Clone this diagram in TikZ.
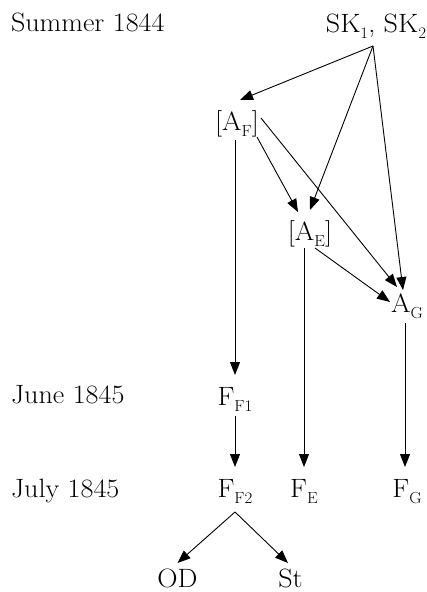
\documentclass[tikz,border=0pt]{standalone}
\usepackage{graphicx}
\usetikzlibrary{arrows.meta}
\newcommand\lb[1]{\scalebox{1.06}[1]{\fontsize{26.5}{30}\selectfont #1}}
\newcommand\sbs[1]{\raisebox{-6.5pt}{\fontsize{16}{16}\selectfont #1}}
\tikzset{
  lab/.style={inner sep=0pt, outer sep=0pt, anchor=base},
  side/.style={inner sep=0pt, outer sep=0pt, anchor=base west},
  arr/.style={line width=0.9pt, -{Triangle[length=13pt,width=10pt]}}
}
\begin{document}
\begin{tikzpicture}[x=1pt,y=-1pt]
\useasboundingbox (0,0) rectangle (426,592);
% time labels
\node[side] (summer) at (11,31) {\lb{Summer 1844}};
\node[side] (june) at (11,403) {\lb{June 1845}};
\node[side] (july) at (11,497) {\lb{July 1845}};
% nodes
\node[lab] (sk) at (376,32) {\lb{SK\sbs{1}, SK\sbs{2}}};
\node[lab] (af) at (237,130) {\lb{[A\sbs{F}]}};
\node[lab] (ae) at (310,240) {\lb{[A\sbs{E}]}};
\node[lab] (ag) at (407,312) {\lb{A\sbs{G}}};
\node[lab] (ff1) at (235,405) {\lb{F\sbs{F1}}};
\node[lab] (ff2) at (235,497) {\lb{F\sbs{F2}}};
\node[lab] (fe) at (304,497) {\lb{F\sbs{E}}};
\node[lab] (fg) at (407,497) {\lb{F\sbs{G}}};
\node[lab] (od) at (177.5,587) {\lb{OD}};
\node[lab] (st) at (290.5,587) {\lb{St}};
\coordinate (skout) at ([shift={(-3,14)}]sk.base);
% connectors
\draw[arr] (skout) -- ([shift={(3,-30)}]af.base);
\draw[arr] (skout) -- ([shift={(0,-30)}]ae.base);
\draw[arr] (skout) -- ([shift={(-4,-22)}]ag.base);
\draw[arr] ([shift={(24,-12)}]af.base) -- ([shift={(-10,-25)}]ag.base);
\draw[arr] ([shift={(20,7)}]af.base) -- ([shift={(-12,-28)}]ae.base);
\draw[arr] ([shift={(5,8)}]ae.base) -- ([shift={(-17,-10)}]ag.base);
\draw[arr] ([shift={(-2,10)}]af.base) -- ([shift={(0,-30)}]ff1.base);
\draw[arr] ([shift={(0,11)}]ff1.base) -- ([shift={(0,-30)}]ff2.base);
\draw[arr] ([shift={(-6,8)}]ae.base) -- ([shift={(0,-30)}]fe.base);
\draw[arr] ([shift={(-2,11)}]ag.base) -- ([shift={(-2,-30)}]fg.base);
\draw[arr] ([shift={(0,15)}]ff2.base) -- ([shift={(0,-24)}]od.base);
\draw[arr] ([shift={(0,15)}]ff2.base) -- ([shift={(-2.5,-24)}]st.base);
\end{tikzpicture}
\end{document}
